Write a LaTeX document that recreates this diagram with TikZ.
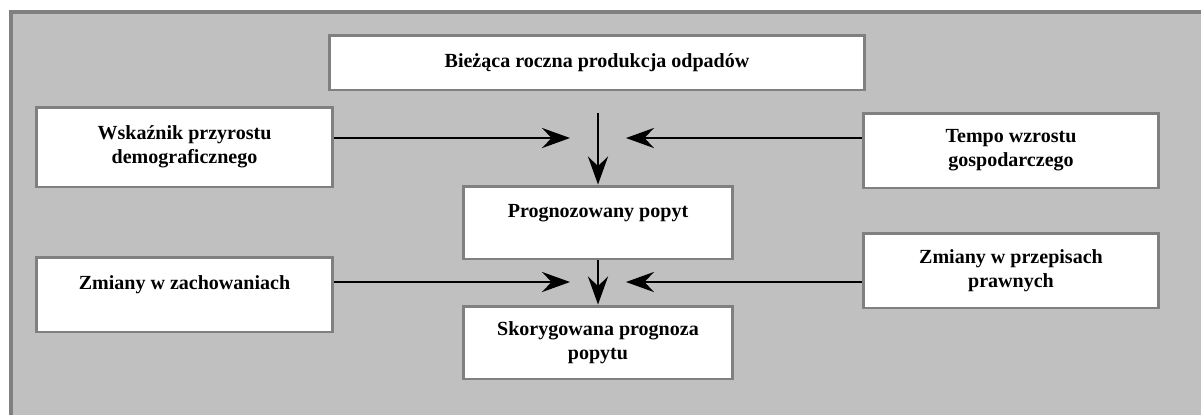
\documentclass[tikz,border=0pt]{standalone}
\usepackage{fontspec}
\setmainfont{Liberation Serif}
\usetikzlibrary{arrows.meta}
\definecolor{FrameClr}{RGB}{128,128,128}
\definecolor{BackClr}{RGB}{192,192,192}

\begin{document}
\begin{tikzpicture}[x=0.02cm,y=-0.02cm,
  box/.style={draw=FrameClr,line width=1.7pt,fill=white,inner sep=0pt,align=center,
    font=\fontsize{11.4}{13.7}\selectfont\bfseries},
  link/.style={line width=0.9pt,-{Stealth[length=16pt,width=11.5pt,inset=5.5pt]}}]

\useasboundingbox (0,0) rectangle (1201,414);
\clip (0,0) rectangle (1201,414);
\draw[draw=FrameClr,fill=BackClr,line width=2pt] (11,12) rectangle (1230,440);

\node[box,minimum width=10.72cm,minimum height=1.1cm] (cur) at (597,62.5) {Bieżąca roczna produkcja odpadów};

\node[box,minimum width=5.94cm,minimum height=1.6cm] (wsk) at (184.5,147) {Wskaźnik przyrostu\\demograficznego};
\node[box,minimum width=5.92cm,minimum height=1.5cm] (tempo) at (1011,150.5) {Tempo wzrostu\\gospodarczego};

\node[box,minimum width=5.4cm,minimum height=1.46cm] (prog) at (598,222.5) {Prognozowany popyt\\\mbox{}};

\node[box,minimum width=5.94cm,minimum height=1.5cm] (zach) at (184.5,294.5) {Zmiany w zachowaniach\\\mbox{}};
\node[box,minimum width=5.92cm,minimum height=1.5cm] (przep) at (1011,270.5) {Zmiany w przepisach\\prawnych};

\node[box,minimum width=5.4cm,minimum height=1.46cm] (skor) at (598,342.5) {Skorygowana prognoza\\popytu};

\coordinate (inL1) at (570,138);
\coordinate (inR1) at (626,138);
\coordinate (inT) at (598,113);
\coordinate (inL2) at (570,282);
\coordinate (inR2) at (626,282);

\draw[link] (inL1 -| wsk.east) -- (inL1);
\draw[link] (inR1 -| tempo.west) -- (inR1);
\draw[link] (inT) -- (prog.north);

\draw[link] (inL2 -| zach.east) -- (inL2);
\draw[link] (inR2 -| przep.west) -- (inR2);
\draw[link] (prog.south) -- (skor.north);

\end{tikzpicture}
\end{document}
